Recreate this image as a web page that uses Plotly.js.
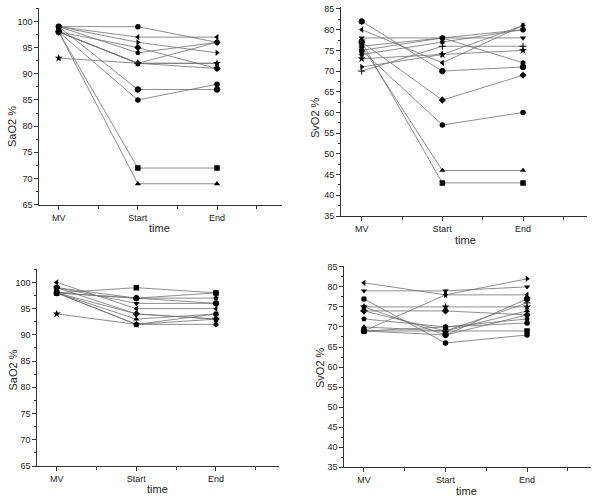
<!DOCTYPE html>
<html>
<head>
<meta charset="utf-8">
<script src="https://cdn.plot.ly/plotly-3.0.1.min.js"></script>
<style>html,body{margin:0;padding:0;background:#fff;}#chart{width:600px;height:504px;}</style>
</head>
<body>
<div id="chart"></div>
<script>
// ---- data ----
const categories = ['MV', 'Start', 'End'];
const yTitleTop = 'SaO2 %';
const yTitleRight = 'SvO2 %';
const xTitle = 'time';

// Top-left panel: SaO2 (MV, Start, End) per patient
const saO2Top = [
  [98, 72, 72],
  [99, 99, 96],
  [98, 69, 69],
  [98, 92, 92],
  [98, 95, 91],
  [99, 97, 97],
  [99, 96, 94],
  [98, 92, 91],
  [93, 92, 92],
  [99, 94, 96],
  [99, 87, 87],
  [98, 85, 88],
  [98, 92, 96]
];
// Top-right panel: SvO2
const svO2Top = [
  [77, 43, 43],
  [75, 57, 60],
  [76, 46, 46],
  [78, 78, 78],
  [77, 63, 69],
  [80, 72, 81],
  [71, 74, 81],
  [76, 78, 72],
  [73, 74, 75],
  [74, 77, 80],
  [82, 70, 71],
  [75, 78, 80],
  [70, 76, 76]
];
// Bottom-left panel: SaO2
const saO2Bottom = [
  [98, 99, 98],
  [98, 97, 98],
  [98, 93, 94],
  [99, 96, 96],
  [98, 94, 93],
  [100, 95, 95],
  [99, 94, 93],
  [98, 92, 92],
  [94, 92, 93],
  [98, 97, 97],
  [99, 97, 96],
  [98, 92, 94]
];
// Bottom-right panel: SvO2
const svO2Bottom = [
  [69, 69, 69],
  [77, 66, 68],
  [70, 69, 74],
  [79, 79, 80],
  [74, 74, 73],
  [81, 78, 78],
  [69, 78, 82],
  [75, 68, 73],
  [75, 75, 75],
  [72, 70, 72],
  [69, 68, 77],
  [69, 70, 71],
  [74, 69, 76]
];

// ---- styles ----
const symbols = ['square', 'circle', 'triangle-up', 'triangle-down', 'diamond',
  'triangle-left', 'triangle-right', 'hexagon', 'star', 'pentagon',
  'circle-dot', 'circle', 'cross-thin-open'];

const xs = categories.map((c, i) => i + 1);
const traces = [];
function addPanel(data, xa, ya) {
  data.forEach((vals, i) => {
    const sym = symbols[i % symbols.length];
    let size = 5.5, lw = 0;
    if (sym === 'star') size = 6;
    if (sym === 'cross-thin-open') { size = 5; lw = 1; }
    if (sym === 'circle-dot') lw = 1;
    traces.push({
      x: xs, y: vals, xaxis: xa, yaxis: ya, type: 'scatter', mode: 'lines+markers',
      line: {color: '#707070', width: 0.8},
      marker: {symbol: sym, size: size, color: '#000', line: {color: '#000', width: lw}},
      showlegend: false, hoverinfo: 'skip'
    });
  });
}
addPanel(saO2Top, 'x', 'y');
addPanel(svO2Top, 'x2', 'y2');
addPanel(saO2Bottom, 'x3', 'y3');
addPanel(svO2Bottom, 'x4', 'y4');

const font = {family: 'Liberation Sans, Arial, sans-serif', size: 9, color: '#222'};
function xAxis(domain, range, anchor) {
  return {
    domain: domain, range: range, anchor: anchor, type: 'linear',
    tickmode: 'array', tickvals: xs, ticktext: categories,
    ticks: 'outside', ticklen: 4, tickwidth: 1, tickcolor: '#333',
    minor: {tickmode: 'array', tickvals: [1.5, 2.5, 3.5], ticks: 'outside', ticklen: 3, tickcolor: '#333'},
    showline: true, linecolor: '#333', linewidth: 1, showgrid: false, zeroline: false,
    tickfont: font, fixedrange: true
  };
}
function yAxis(domain, range, anchor) {
  return {
    domain: domain, range: range, anchor: anchor,
    tickmode: 'linear', tick0: 0, dtick: 5,
    ticks: 'outside', ticklen: 4, tickwidth: 1, tickcolor: '#333',
    minor: {dtick: 2.5, tick0: 0, ticks: 'outside', ticklen: 2, tickcolor: '#333'},
    showline: true, linecolor: '#333', linewidth: 1, showgrid: false, zeroline: false,
    tickfont: font, fixedrange: true
  };
}

const W = 600, H = 504;
const px = v => v / W, py = v => 1 - v / H;
const titleFont = {family: 'Liberation Sans, Arial, sans-serif', size: 11, color: '#222'};
function ann(text, x, y, rot) {
  return {text: text, x: px(x), y: py(y), xref: 'paper', yref: 'paper', showarrow: false,
    textangle: rot || 0, font: titleFont, xanchor: 'center', yanchor: 'middle'};
}

const layout = {
  width: W, height: H, margin: {l: 0, r: 0, t: 0, b: 0},
  paper_bgcolor: '#fff', plot_bgcolor: '#fff', showlegend: false,
  xaxis: xAxis([px(39.3), px(281.7)], [0.755, 3.817], 'y'),
  yaxis: yAxis([py(204.7), py(8.3)], [65, 102.5], 'x'),
  xaxis2: xAxis([px(341), px(586.7)], [0.743, 3.79], 'y2'),
  yaxis2: yAxis([py(216), py(6.9)], [35, 85.5], 'x2'),
  xaxis3: xAxis([px(37.3), px(279.3)], [0.756, 3.795], 'y3'),
  yaxis3: yAxis([py(466), py(269.3)], [65, 102.5], 'x3'),
  xaxis4: xAxis([px(344.3), px(590.7)], [0.759, 3.78], 'y4'),
  yaxis4: yAxis([py(467.3), py(266)], [35, 85.2], 'x4'),
  annotations: [
    ann(yTitleTop, 12, 127, -90),
    ann(yTitleRight, 315, 118, -90),
    ann(yTitleTop, 12.5, 370, -90),
    ann(yTitleRight, 320, 368, -90),
    ann(xTitle, 159, 228),
    ann(xTitle, 465, 240),
    ann(xTitle, 158, 489),
    ann(xTitle, 466.7, 491)
  ]
};

Plotly.newPlot('chart', traces, layout, {staticPlot: true, displayModeBar: false});
</script>
</body>
</html>
